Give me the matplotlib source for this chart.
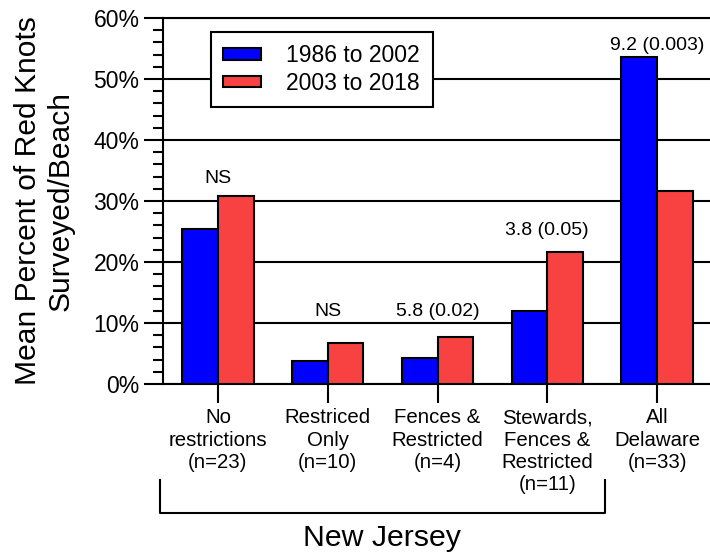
import matplotlib
matplotlib.use("Agg")
import matplotlib.pyplot as plt
import numpy as np
from matplotlib.ticker import MultipleLocator, FuncFormatter
from matplotlib.lines import Line2D
import matplotlib.transforms as mtransforms

plt.rcParams['font.family'] = ['Liberation Sans', 'DejaVu Sans']

# Data
categories = ["No\nrestrictions\n(n=23)", "Restriced\nOnly\n(n=10)", "Fences &\nRestricted\n(n=4)",
              "Stewards,\nFences &\nRestricted\n(n=11)", "All\nDelaware\n(n=33)"]
series_names = ["1986 to 2002", "2003 to 2018"]
early = [25.4, 3.7, 4.2, 11.9, 53.6]
late = [30.8, 6.8, 7.7, 21.7, 31.7]
stat_labels = ["NS", "NS", "5.8 (0.02)", "3.8 (0.05)", "9.2 (0.003)"]
stat_label_y = [33.0, 11.1, 11.1, 24.4, 54.8]

BLUE = "#0000FF"
RED = "#F84242"

fig = plt.figure(figsize=(7.10, 5.55), dpi=100)
ax = fig.add_axes([163 / 710, 1 - 384 / 555, 549 / 710, 366 / 555])

x = np.arange(len(categories))
w = 0.325
ax.bar(x - w / 2, early, width=w, color=BLUE, edgecolor="black", linewidth=1.5,
       label=series_names[0], zorder=3)
ax.bar(x + w / 2, late, width=w, color=RED, edgecolor="black", linewidth=1.5,
       label=series_names[1], zorder=3)

for xi, txt, yy in zip(x, stat_labels, stat_label_y):
    ax.text(xi, yy, txt, ha="center", va="baseline", fontsize=14, zorder=4)

ax.set_xlim(-0.5, 4.5)
ax.set_ylim(0, 60)
ax.yaxis.set_major_locator(MultipleLocator(10))
ax.yaxis.set_minor_locator(MultipleLocator(2))
ax.yaxis.set_major_formatter(FuncFormatter(lambda v, p: f"{v:.0f}%"))
ax.yaxis.grid(True, which="major", color="black", linewidth=1.5, zorder=0)
ax.set_axisbelow(True)

ax.tick_params(axis="y", which="major", length=14, width=1.5, direction="out",
               labelsize=16.5, pad=3)
ax.tick_params(axis="y", which="minor", length=7, width=1.5, direction="out")
ax.set_xticks(x)
ax.set_xticklabels(categories, fontsize=14.7, linespacing=1.22)
ax.tick_params(axis="x", length=14, width=1.5, direction="out", pad=3.5)

for side in ["left", "bottom", "top"]:
    ax.spines[side].set_linewidth(1.5)
ax.spines["right"].set_visible(False)

leg = ax.legend(loc="upper left", bbox_to_anchor=(0.0869, 0.9626), fontsize=16.5,
                handlelength=1.65, handleheight=0.39, handletextpad=1.1,
                borderpad=0.55, labelspacing=0.2, fancybox=False, framealpha=1,
                edgecolor="black", borderaxespad=0)
leg.get_frame().set_linewidth(1.5)
for h in leg.legend_handles:
    h.set_linewidth(1.5)

# Y label (two centered lines)
fig.text(44 / 710, 1 - 201 / 555, "Mean Percent of Red Knots\nSurveyed/Beach",
         rotation=90, ha="center", va="center", fontsize=21.6, linespacing=1.2,
         multialignment="center")

# Bracket grouping the New Jersey categories
trans = mtransforms.blended_transform_factory(ax.transData, ax.transAxes)
xl = -0.527
xr = 3.523
yt = (384 - 480) / 366
yb = (384 - 513.3) / 366
ax.add_line(Line2D([xl, xl, xr, xr], [yt, yb, yb, yt], transform=trans,
                   color="black", linewidth=1.5, clip_on=False))
fig.text(382 / 710, 1 - 537.5 / 555, "New Jersey", ha="center", va="center", fontsize=21.8)

fig.savefig("out.png", dpi=100)
